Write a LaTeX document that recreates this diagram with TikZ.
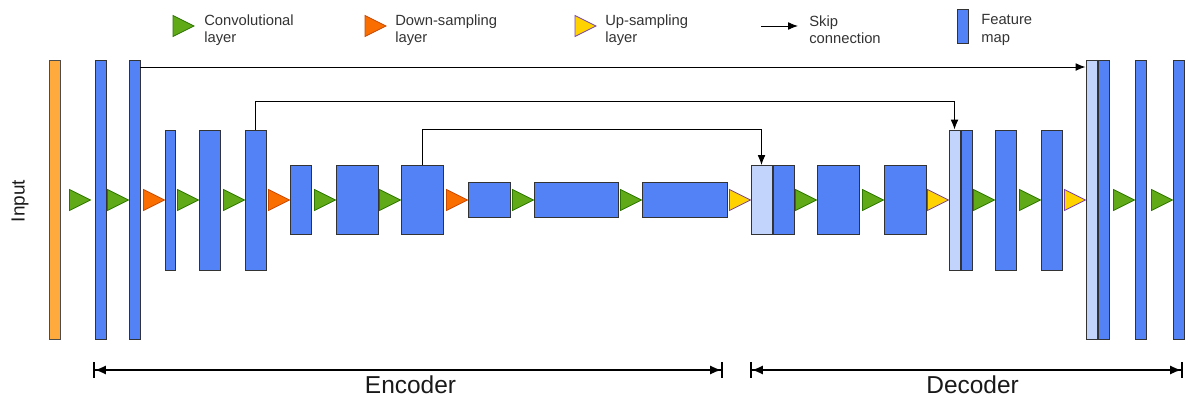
\documentclass[tikz,border=0pt]{standalone}
\usepackage{fontspec}
\setmainfont{Liberation Sans}
\usetikzlibrary{arrows.meta,positioning}

\definecolor{fmblue}{RGB}{82,130,245}
\definecolor{fmlight}{RGB}{195,212,252}
\definecolor{inorange}{RGB}{255,170,60}
\definecolor{convgreen}{RGB}{96,169,23}
\definecolor{convedge}{RGB}{45,118,0}
\definecolor{downorange}{RGB}{250,110,0}
\definecolor{downedge}{RGB}{199,75,0}
\definecolor{upyellow}{RGB}{255,210,0}
\definecolor{upedge}{RGB}{120,70,160}

\begin{document}
\begin{tikzpicture}[
    x=0.025cm,
    y=-0.025cm,
    fmap/.style 2 args={
        rectangle,
        draw=black!80,
        fill=fmblue,
        line width=0.7pt,
        inner sep=0pt,
        minimum width=#1*0.025cm,
        minimum height=#2*0.025cm
    },
    copied/.style={fill=fmlight},
    inputmap/.style={fill=inorange, draw=black!70},
    conv/.style={fill=convgreen, draw=convedge, line width=0.6pt},
    down/.style={fill=downorange, draw=downedge, line width=0.6pt},
    up/.style={fill=upyellow, draw=upedge, line width=0.6pt},
    pics/tri/.style={
        code={\draw[#1] (0,0) -- (-21,-10.5) -- (-21,10.5) -- cycle;}
    },
    skip/.style={
        draw,
        -{Latex[length=7pt,width=5.5pt]},
        line width=0.7pt
    },
    span/.style={
        draw,
        {Bar[width=11pt]Latex[length=8pt,width=6.5pt]}-{Latex[length=8pt,width=6.5pt]Bar[width=11pt]},
        line width=1.2pt
    },
    legend/.style={
        anchor=west,
        align=left,
        inner sep=0pt,
        text=black!80,
        font=\fontsize{10.5}{12.4}\selectfont
    },
    part/.style={font=\fontsize{17.4}{20}\selectfont, text=black!90}
]
    \useasboundingbox (0,0) rectangle (1188,400);

    % Legend
    \pic at (194,26) {tri=conv};
    \node[legend] (lconv) at (204,30) {Convolutional\\layer};
    \pic at (386,26) {tri=down};
    \node[legend] (ldown) at (395,30) {Down-sampling\\layer};
    \pic at (596,26) {tri=up};
    \node[legend] (lup) at (605,30) {Up-sampling\\layer};
    \coordinate (lskipa) at (761,26);
    \coordinate (lskipb) at (798,26);
    \draw[skip] (lskipa) -- (lskipb);
    \node[legend] (lskip) at (809,30) {Skip\\connection};
    \node[fmap={11}{34}] (lfm) at (962.5,26) {};
    \node[legend] (lfmap) at (981,30) {Feature\\map};

    % Input
    \node[rotate=90, font=\fontsize{13.5}{16}\selectfont, text=black!90] (inlbl) at (20,201) {Input};
    \node[fmap={11}{279}, inputmap] (in) at (54.5,200) {};

    % Encoder
    \node[fmap={11}{279}] (b1) at (100.5,200) {};
    \node[fmap={11}{279}] (b2) at (134.5,200) {};
    \node[fmap={10}{140}] (b3) at (170,200) {};
    \node[fmap={21}{140}] (b4) at (209.5,200) {};
    \node[fmap={21}{140}] (b5) at (255.5,200) {};
    \node[fmap={21}{69}] (b6) at (300.5,200) {};
    \node[fmap={42}{69}] (b7) at (357,200) {};
    \node[fmap={42}{69}] (b8) at (422,200) {};
    \node[fmap={42}{35}] (b9) at (489,200) {};
    \node[fmap={84}{35}] (b10) at (576,200) {};
    \node[fmap={85}{35}] (b11) at (684.5,200) {};

    % Decoder
    \node[fmap={21}{69}, copied] (s3) at (761.5,200) {};
    \node[fmap={21}{69}, right=0pt of s3] (d3) {};
    \node[fmap={42}{69}] (b12) at (838,200) {};
    \node[fmap={42}{69}] (b13) at (905,200) {};
    \node[fmap={11}{140}, copied] (s2) at (954.5,200) {};
    \node[fmap={11}{140}, right=0pt of s2] (d2) {};
    \node[fmap={21}{140}] (b14) at (1005.5,200) {};
    \node[fmap={21}{140}] (b15) at (1051.5,200) {};
    \node[fmap={11}{279}, copied] (s1) at (1091.5,200) {};
    \node[fmap={11}{279}, right=0pt of s1] (d1) {};
    \node[fmap={11}{279}] (b16) at (1140.5,200) {};
    \node[fmap={11}{279}] (b17) at (1178.5,200) {};

    % Layers
    \pic at ([xshift=-0.1cm]b1.west) {tri=conv};
    \pic at (b2.west) {tri=conv};
    \pic at (b3.west) {tri=down};
    \pic at (b4.west) {tri=conv};
    \pic at (b5.west) {tri=conv};
    \pic at (b6.west) {tri=down};
    \pic at (b7.west) {tri=conv};
    \pic at (b8.west) {tri=conv};
    \pic at (b9.west) {tri=down};
    \pic at (b10.west) {tri=conv};
    \pic at (b11.west) {tri=conv};
    \pic at (s3.west) {tri=up};
    \pic at (b12.west) {tri=conv};
    \pic at (b13.west) {tri=conv};
    \pic at (s2.west) {tri=up};
    \pic at (b14.west) {tri=conv};
    \pic at (b15.west) {tri=conv};
    \pic at (s1.west) {tri=up};
    \pic at (b16.west) {tri=conv};
    \pic at (b17.west) {tri=conv};

    % Skip connections
    \draw[skip] ([yshift=-0.175cm]b2.north east) -- ([yshift=-0.175cm]s1.north west);
    \draw[skip] (b5.north) -- ++(0,-28) -| (s2.north);
    \draw[skip] (b8.north) -- ++(0,-36) -| (s3.north);

    % Encoder / decoder spans
    \coordinate (enca) at (93,370);
    \coordinate (encb) at (723,370);
    \coordinate (deca) at (750,370);
    \coordinate (decb) at (1183,370);
    \path[span] (enca) -- node[pos=0.504, below, part] (enc) {Encoder} (encb);
    \path[span] (deca) -- node[pos=0.514, below, part] (dec) {Decoder} (decb);
\end{tikzpicture}
\end{document}
